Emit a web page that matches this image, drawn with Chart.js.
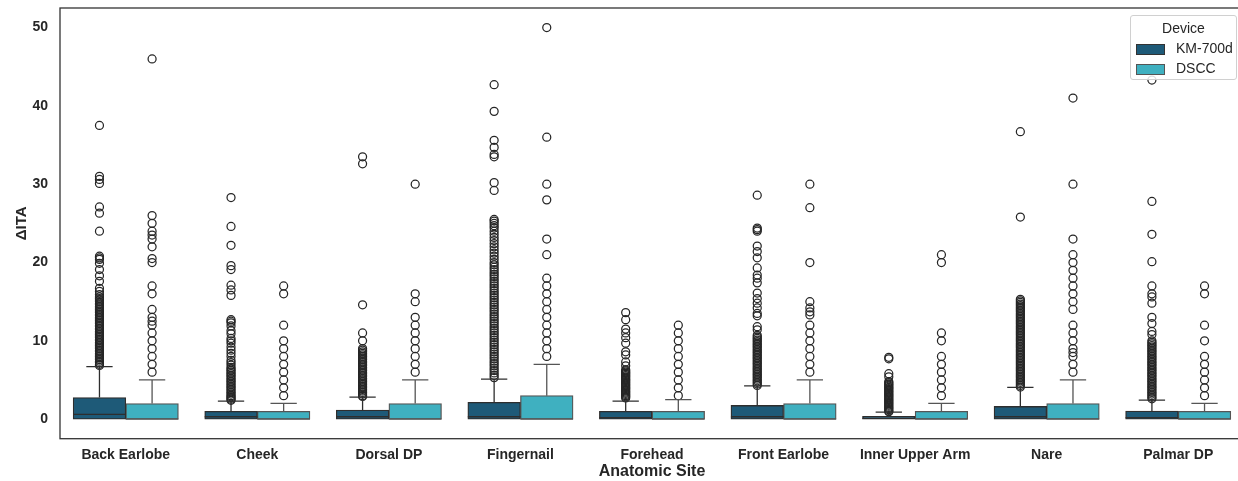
<!DOCTYPE html>
<html>
<head>
<meta charset="utf-8">
<script src="https://cdn.jsdelivr.net/npm/chart.js@4.4.0/dist/chart.umd.min.js"></script>
<style>
  body { margin: 0; overflow: hidden; background: #fff; }
  #wrap { position: relative; width: 1250px; height: 481px; }
  #legend {
    position: absolute; left: 1130px; top: 15px; width: 105px; height: 63px;
    border: 1px solid #d0d0d0; border-radius: 3px; background: rgba(255,255,255,0.85);
    font-family: "Liberation Sans", Arial, sans-serif; font-size: 14px; color: #262626;
  }
  #legend .title { position: absolute; top: 4px; width: 100%; text-align: center; }
  #legend .item { position: absolute; left: 5px; height: 16px; line-height: 16px; }
  #legend .patch { display: inline-block; width: 27px; height: 9px; vertical-align: middle; margin-right: 11px; border: 1px solid #333; }
</style>
</head>
<body>
<div id="wrap">
  <canvas id="chart" width="1250" height="481"></canvas>
  <div id="legend">
    <div class="title">Device</div>
    <div class="item" style="top:24px"><span class="patch" style="background:#1e5a78"></span>KM-700d</div>
    <div class="item" style="top:44px"><span class="patch" style="background:#3fb0c0;border-color:#555"></span>DSCC</div>
  </div>
</div>
<script>
const sites = ["Back Earlobe", "Cheek", "Dorsal DP", "Fingernail", "Forehead", "Front Earlobe", "Inner Upper Arm", "Nare", "Palmar DP"];
const yTicks = [0, 10, 20, 30, 40, 50];

// KM-700d box stats
const kmQ1 = [0, 0, 0, 0, 0, 0, 0, 0, 0];
const kmMedian = [0.6, 0.3, 0.3, 0.3, 0.2, 0.3, 0.1, 0.3, 0.2];
const kmQ3 = [2.75, 1.0, 1.15, 2.15, 1.0, 1.75, 0.35, 1.62, 1.02];
const kmWhiskerHi = [6.7, 2.3, 2.8, 5.1, 2.3, 4.25, 0.9, 4.05, 2.43];

// DSCC box stats
const dsQ1 = [0, 0, 0, 0, 0, 0, 0, 0, 0];
const dsMedian = [0, 0, 0, 0, 0, 0, 0, 0, 0];
const dsQ3 = [2, 1, 2, 3, 1, 2, 1, 2, 1];
const dsWhiskerHi = [5, 2, 5, 7, 2.5, 5, 2, 5, 2];

const kmOutliers = [
  [37.5, 31.0, 30.6, 30.1, 27.1, 26.3, 24.0, 20.8, 20.6, 20.4, 19.9, 19.1, 18.3, 17.6, 16.7, 16.3, 15.9, 15.6, 15.4, 15.2, 15.0, 14.8, 14.6, 14.4, 14.2, 14.0, 13.8, 13.6, 13.4, 13.2, 13.0, 12.8, 12.6, 12.4, 12.2, 12.0, 11.8, 11.6, 11.4, 11.2, 11.0, 10.8, 10.6, 10.4, 10.2, 10.0, 9.8, 9.6, 9.4, 9.2, 9.0, 8.8, 8.6, 8.4, 8.2, 8.0, 7.8, 7.6, 7.4, 7.2, 7.0, 6.85],
  [28.3, 24.6, 22.2, 19.6, 19.1, 17.1, 16.5, 15.8, 12.7, 12.5, 12.3, 11.9, 11.3, 10.9, 10.3, 10.0, 9.7, 9.2, 8.8, 8.4, 8.0, 7.5, 7.2, 6.9, 6.6, 6.4, 6.2, 6.0, 5.8, 5.6, 5.4, 5.2, 5.0, 4.8, 4.6, 4.4, 4.2, 4.0, 3.8, 3.6, 3.4, 3.2, 3.0, 2.85, 2.7, 2.55, 2.4],
  [33.5, 32.6, 14.6, 11.0, 10.0, 9.0, 8.8, 8.6, 8.4, 8.2, 8.0, 7.8, 7.6, 7.4, 7.2, 7.0, 6.8, 6.6, 6.4, 6.2, 6.0, 5.8, 5.6, 5.4, 5.2, 5.0, 4.8, 4.6, 4.4, 4.2, 4.0, 3.8, 3.6, 3.4, 3.2, 3.0, 2.9],
  [42.7, 39.3, 35.6, 34.7, 33.8, 33.5, 30.2, 29.2, 25.5, 25.3, 25.0, 24.7, 24.4, 24.0, 23.6, 23.2, 22.8, 22.4, 22.0, 21.6, 21.2, 20.8, 20.4, 20.0, 19.7, 19.4, 19.1, 18.8, 18.5, 18.2, 17.9, 17.6, 17.3, 17.0, 16.7, 16.4, 16.1, 15.8, 15.5, 15.2, 14.9, 14.6, 14.3, 14.0, 13.7, 13.4, 13.1, 12.8, 12.5, 12.2, 11.9, 11.6, 11.3, 11.0, 10.7, 10.4, 10.1, 9.8, 9.5, 9.2, 8.9, 8.6, 8.3, 8.0, 7.7, 7.4, 7.1, 6.8, 6.5, 6.2, 5.9, 5.6, 5.3],
  [13.6, 12.7, 11.5, 11.0, 10.4, 9.7, 8.6, 8.2, 7.3, 6.8, 6.3, 6.15, 6.0, 5.85, 5.7, 5.55, 5.4, 5.25, 5.1, 4.95, 4.8, 4.65, 4.5, 4.35, 4.2, 4.05, 3.9, 3.75, 3.6, 3.45, 3.3, 3.15, 3.0, 2.85, 2.7],
  [28.6, 24.4, 24.2, 24.0, 22.1, 21.4, 20.6, 19.3, 18.4, 18.0, 17.4, 16.1, 15.4, 14.8, 14.2, 13.5, 13.2, 11.8, 11.4, 10.7, 10.5, 10.3, 10.1, 9.9, 9.7, 9.5, 9.3, 9.1, 8.9, 8.7, 8.5, 8.3, 8.1, 7.9, 7.7, 7.5, 7.3, 7.1, 6.9, 6.7, 6.5, 6.3, 6.1, 5.9, 5.7, 5.5, 5.3, 5.1, 4.9, 4.7, 4.5, 4.3],
  [7.9, 7.7, 5.8, 5.4, 4.8, 4.65, 4.5, 4.35, 4.2, 4.05, 3.9, 3.75, 3.6, 3.45, 3.3, 3.15, 3.0, 2.85, 2.7, 2.55, 2.4, 2.25, 2.1, 1.95, 1.8, 1.65, 1.5, 1.35, 1.2, 1.05, 0.95],
  [36.7, 25.8, 15.3, 15.1, 14.9, 14.7, 14.5, 14.3, 14.1, 13.9, 13.7, 13.5, 13.3, 13.1, 12.9, 12.7, 12.5, 12.3, 12.1, 11.9, 11.7, 11.5, 11.3, 11.1, 10.9, 10.7, 10.5, 10.3, 10.1, 9.9, 9.7, 9.5, 9.3, 9.1, 8.9, 8.7, 8.5, 8.3, 8.1, 7.9, 7.7, 7.5, 7.3, 7.1, 6.9, 6.7, 6.5, 6.3, 6.1, 5.9, 5.7, 5.5, 5.3, 5.1, 4.9, 4.7, 4.5, 4.3, 4.1],
  [43.3, 27.8, 23.6, 20.1, 17.0, 16.0, 15.6, 14.8, 13.0, 12.2, 11.2, 10.8, 10.0, 9.8, 9.6, 9.4, 9.2, 9.0, 8.8, 8.6, 8.4, 8.2, 8.0, 7.8, 7.6, 7.4, 7.2, 7.0, 6.8, 6.6, 6.4, 6.2, 6.0, 5.8, 5.6, 5.4, 5.2, 5.0, 4.8, 4.6, 4.4, 4.2, 4.0, 3.8, 3.6, 3.4, 3.2, 3.0, 2.8, 2.6]
];

const dsOutliers = [
  [46, 26, 25, 24, 23.5, 23, 22, 20.5, 20, 17, 16, 14, 13, 12.5, 12, 11, 10, 9, 8, 7, 6],
  [17, 16, 12, 10, 9, 8, 7, 6, 5, 4, 3],
  [30, 16, 15, 13, 12, 11, 10, 9, 8, 7, 6],
  [50, 36, 30, 28, 23, 21, 18, 17, 16, 15, 14, 13, 12, 11, 10, 9, 8],
  [12, 11, 10, 9, 8, 7, 6, 5, 4, 3],
  [30, 27, 20, 15, 14.2, 13.7, 13.3, 12, 11, 10, 9, 8, 7, 6],
  [21, 20, 11, 10, 8, 7, 6, 5, 4, 3],
  [41, 30, 23, 21, 20, 19, 18, 17, 16, 15, 14, 12, 11, 10, 9, 8.5, 8, 7, 6],
  [17, 16, 12, 10, 8, 7, 6, 5, 4, 3]
];

const kmColor = "#1e5a78";
const dsColor = "#3fb0c0";
const kmLine = "#2e2e2e";
const dsLine = "#555555";
const font = "'Liberation Sans', Arial, sans-serif";
const shift = 0.2; // dodge of each device inside a site

function outlierPoints(list, dx) {
  const pts = [];
  list.forEach((vals, i) => {
    vals.forEach((v) => pts.push({ x: i + dx, y: v }));
  });
  return pts;
}

// whiskers, caps and medians, placed from the bar elements and the y scale
const boxExtras = {
  id: "boxExtras",
  afterDatasetsDraw(chart) {
    const ctx = chart.ctx;
    const y = chart.scales.y;
    const stats = [
      { q3: kmQ3, med: kmMedian, hi: kmWhiskerHi, color: kmLine },
      { q3: dsQ3, med: dsMedian, hi: dsWhiskerHi, color: dsLine }
    ];
    stats.forEach((s, d) => {
      const meta = chart.getDatasetMeta(d);
      meta.data.forEach((bar, i) => {
        const x = bar.x;
        const w = bar.width;
        ctx.save();
        ctx.strokeStyle = s.color;
        ctx.lineWidth = 1.3;
        ctx.beginPath();
        ctx.moveTo(x, y.getPixelForValue(s.q3[i]));
        ctx.lineTo(x, y.getPixelForValue(s.hi[i]));
        ctx.moveTo(x - w / 4, y.getPixelForValue(s.hi[i]));
        ctx.lineTo(x + w / 4, y.getPixelForValue(s.hi[i]));
        ctx.moveTo(x - w / 2, y.getPixelForValue(s.med[i]));
        ctx.lineTo(x + w / 2, y.getPixelForValue(s.med[i]));
        ctx.stroke();
        ctx.restore();
      });
    });
    // axes frame
    const a = chart.chartArea;
    ctx.save();
    ctx.strokeStyle = "#333";
    ctx.lineWidth = 1.3;
    ctx.strokeRect(a.left, a.top, a.right - a.left, a.bottom - a.top);
    ctx.restore();
  }
};

const ctx = document.getElementById("chart").getContext("2d");

new Chart(ctx, {
  type: "bar",
  data: {
    datasets: [
      {
        label: "KM-700d",
        data: kmQ1.map((q, i) => ({ x: i - shift, y: [q, kmQ3[i]] })),
        backgroundColor: kmColor,
        borderColor: kmLine,
        borderWidth: 1.3,
        borderSkipped: false,
        grouped: false,
        barPercentage: 1,
        categoryPercentage: 1
      },
      {
        label: "DSCC",
        data: dsQ1.map((q, i) => ({ x: i + shift, y: [q, dsQ3[i]] })),
        backgroundColor: dsColor,
        borderColor: dsLine,
        borderWidth: 1.3,
        borderSkipped: false,
        grouped: false,
        barPercentage: 1,
        categoryPercentage: 1
      },
      {
        type: "scatter",
        label: "KM-700d outliers",
        data: outlierPoints(kmOutliers, -shift),
        pointRadius: 4,
        pointBorderWidth: 1.25,
        borderColor: "#262626",
        backgroundColor: "rgba(0,0,0,0)"
      },
      {
        type: "scatter",
        label: "DSCC outliers",
        data: outlierPoints(dsOutliers, shift),
        pointRadius: 4,
        pointBorderWidth: 1.25,
        borderColor: "#262626",
        backgroundColor: "rgba(0,0,0,0)"
      }
    ]
  },
  options: {
    responsive: false,
    animation: false,
    devicePixelRatio: 1,
    layout: { padding: { left: 0, top: 8, right: 6, bottom: 0 } },
    plugins: { legend: { display: false }, tooltip: { enabled: false } },
    scales: {
      x: {
        type: "linear",
        min: -0.5,
        max: 8.5,
        offset: false,
        grid: { display: false, drawTicks: false, offset: false },
        border: { display: false },
        afterBuildTicks(scale) { scale.ticks = sites.map((s, i) => ({ value: i })); },
        ticks: {
          color: "#262626",
          font: { family: font, size: 14, weight: "bold" },
          padding: 8,
          autoSkip: false,
          maxRotation: 0,
          callback: (v) => sites[v]
        },
        title: { display: true, text: "Anatomic Site", color: "#262626", font: { family: font, size: 16, weight: "bold" }, padding: 0 },
        afterFit(scale) { scale.height = 42.3; scale.paddingLeft = 0; scale.paddingRight = 0; }
      },
      y: {
        min: -2.5,
        max: 52.5,
        grid: { display: false, drawTicks: false },
        border: { display: false },
        afterBuildTicks(scale) { scale.ticks = yTicks.map((v) => ({ value: v })); },
        ticks: { color: "#262626", font: { family: font, size: 14, weight: "bold" }, padding: 12 },
        title: { display: true, text: "ΔITA", color: "#262626", font: { family: font, size: 15, weight: "bold" }, padding: { top: 13, bottom: 0 } },
        afterFit(scale) { scale.width = 60; scale.paddingTop = 0; scale.paddingBottom = 0; }
      }
    }
  },
  plugins: [boxExtras]
});
</script>
</body>
</html>
